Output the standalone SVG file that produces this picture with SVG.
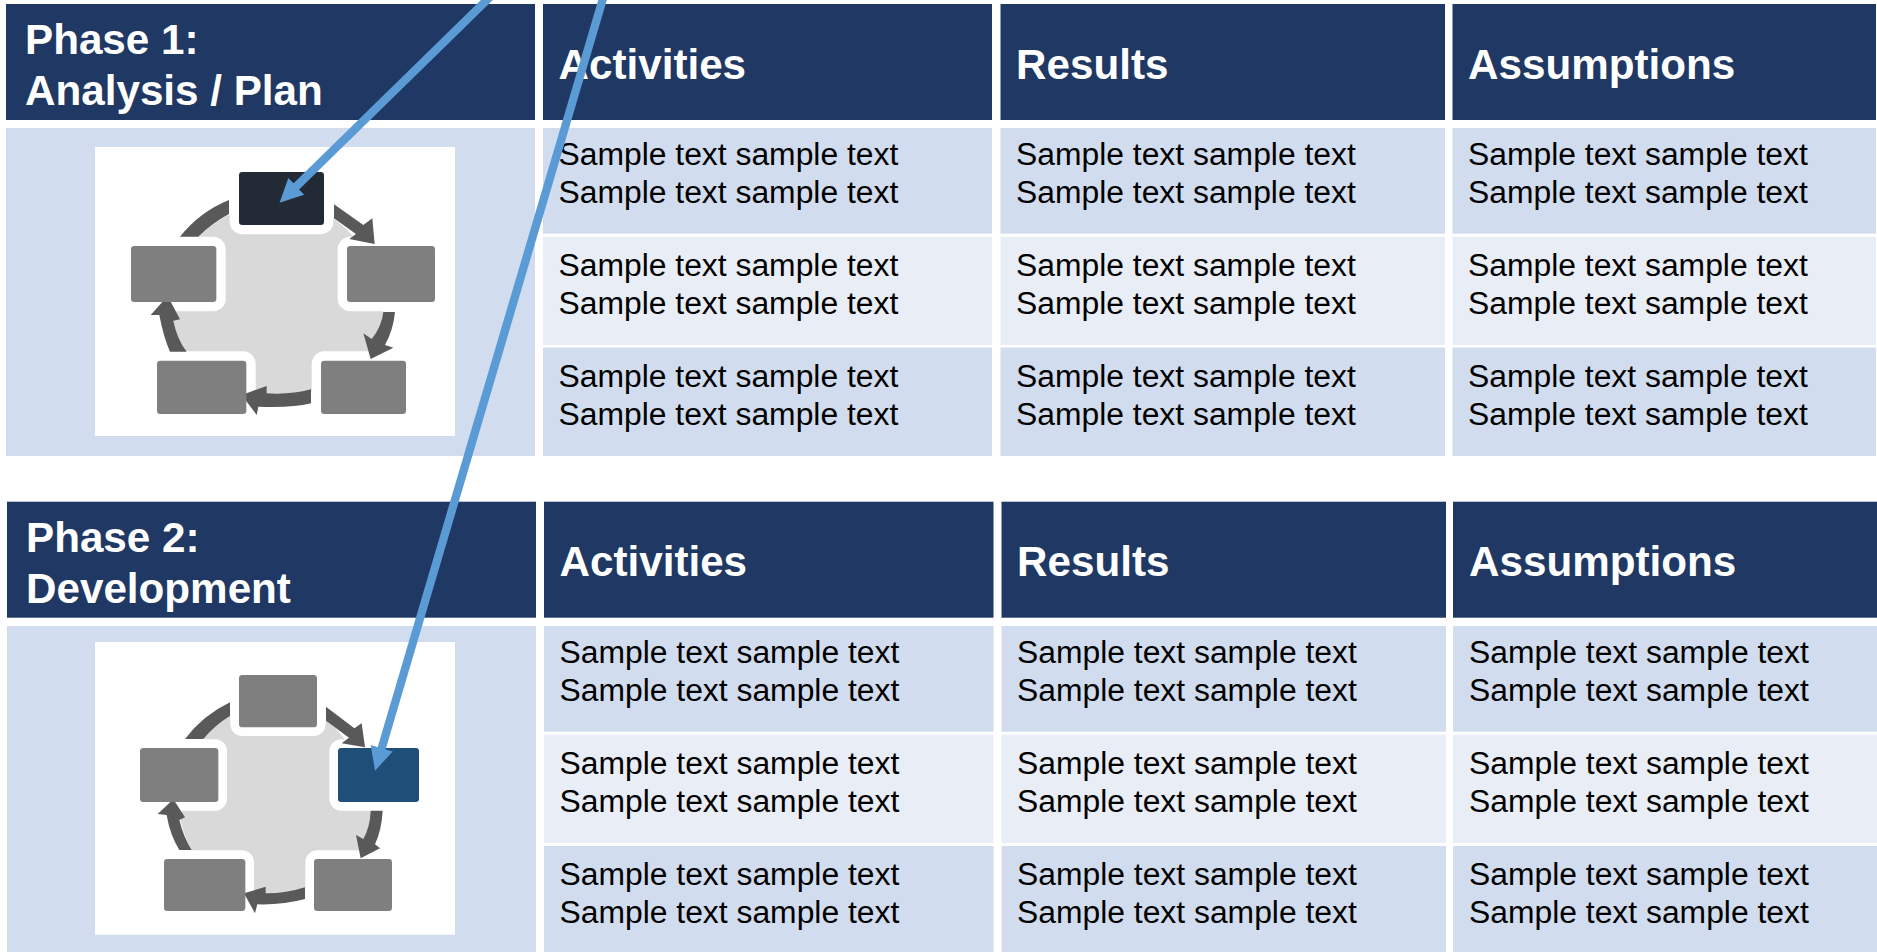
<svg xmlns="http://www.w3.org/2000/svg" width="1877" height="952" viewBox="0 0 1877 952">
<style>
text{font-family:"Liberation Sans",Arial,sans-serif}
.h{fill:#203864}
.a{fill:#D1DCEE}
.b{fill:#E9EDF6}
.ht{font-size:42.2px;font-weight:700;fill:#fff}
.t{font-size:31.85px;fill:#000}
.w{fill:#fff}
.g{fill:#D9D9D9}
.r{fill:#595959}
.bx{fill:#7F7F7F;stroke:none}
.o{fill:#fff;stroke:#fff;stroke-linejoin:round}
.c{fill:none;stroke:#5B9BD5;stroke-width:8.3}
</style>
<defs>
<marker id="ah" markerUnits="userSpaceOnUse" viewBox="0 0 24 24" markerWidth="24" markerHeight="24" refX="12" refY="12" orient="auto"><path d="M0 0.5L23.5 12L0 23.5Z" fill="#5B9BD5"/></marker>
</defs>
<g id="p1-title"><rect class="h" x="6" y="4" width="529" height="116"/><text class="ht" x="25" y="53.5">Phase 1:</text><text class="ht" x="25" y="104.5">Analysis / Plan</text></g>
<g id="p1-activities"><rect class="h" x="543" y="4" width="449" height="116"/><text class="ht" x="558.5" y="78.5">Activities</text></g>
<g id="p1-results"><rect class="h" x="1000.5" y="4" width="444.5" height="116"/><text class="ht" x="1016" y="78.5">Results</text></g>
<g id="p1-assumptions"><rect class="h" x="1452.5" y="4" width="423.5" height="116"/><text class="ht" x="1468" y="78.5">Assumptions</text></g>
<g id="p1-icon-panel"><rect class="a" x="6" y="128" width="529" height="328"/><rect class="w" x="95" y="147" width="360" height="289"/>
<g transform="translate(120 160) scale(.33333)">
<path class="g" d="M327 165L640 175Q700 220 720 260L790 456Q785 510 745 580L575 695Q480 710 400 695L190 575Q170 530 160 480L235 232Q275 190 327 165Z"/>
<rect class="o" x="357" y="36" width="255" height="159" rx="10" stroke-width="56"/>
<rect class="o" x="33" y="258" width="256" height="168" rx="10" stroke-width="56"/>
<rect class="o" x="681" y="258" width="264" height="168" rx="10" stroke-width="56"/>
<rect class="o" x="111" y="602" width="268" height="160" rx="10" stroke-width="56"/>
<rect class="o" x="603" y="602" width="255" height="160" rx="10" stroke-width="56"/>
<path class="r" d="M327 120Q240 155 180 230L235 230Q275 190 327 162Z"/>
<path class="r" d="M642 133L730 195L757 175L764 252L688 237L708 222L642 175Z"/>
<path class="r" d="M790 456L825 456Q820 510 795 555L820 563L752 597L730 520L755 537Q785 500 790 456Z"/>
<path class="r" d="M573 688Q510 705 440 700L440 678L365 705L410 765L415 740Q510 745 573 730Z"/>
<path class="r" d="M200 575Q172 540 160 482L180 478L143 408L92 465L118 465Q130 530 150 575Z"/>
<rect x="357" y="36" width="255" height="159" rx="10" fill="#222A35"/>
<rect class="bx" x="33" y="258" width="256" height="168" rx="10"/>
<rect class="bx" x="681" y="258" width="264" height="168" rx="10"/>
<rect class="bx" x="111" y="602" width="268" height="160" rx="10"/>
<rect class="bx" x="603" y="602" width="255" height="160" rx="10"/>
</g></g>
<g id="p1-r1c1"><rect class="a" x="543" y="128" width="449" height="105.7"/><text class="t" x="558.5" y="165">Sample text sample text</text><text class="t" x="558.5" y="203">Sample text sample text</text></g>
<g id="p1-r1c2"><rect class="a" x="1000.5" y="128" width="444.5" height="105.7"/><text class="t" x="1016" y="165">Sample text sample text</text><text class="t" x="1016" y="203">Sample text sample text</text></g>
<g id="p1-r1c3"><rect class="a" x="1452.5" y="128" width="423.5" height="105.7"/><text class="t" x="1468" y="165">Sample text sample text</text><text class="t" x="1468" y="203">Sample text sample text</text></g>
<g id="p1-r2c1"><rect class="b" x="543" y="236.7" width="449" height="108.3"/><text class="t" x="558.5" y="276">Sample text sample text</text><text class="t" x="558.5" y="314">Sample text sample text</text></g>
<g id="p1-r2c2"><rect class="b" x="1000.5" y="236.7" width="444.5" height="108.3"/><text class="t" x="1016" y="276">Sample text sample text</text><text class="t" x="1016" y="314">Sample text sample text</text></g>
<g id="p1-r2c3"><rect class="b" x="1452.5" y="236.7" width="423.5" height="108.3"/><text class="t" x="1468" y="276">Sample text sample text</text><text class="t" x="1468" y="314">Sample text sample text</text></g>
<g id="p1-r3c1"><rect class="a" x="543" y="347.5" width="449" height="108.5"/><text class="t" x="558.5" y="387">Sample text sample text</text><text class="t" x="558.5" y="425">Sample text sample text</text></g>
<g id="p1-r3c2"><rect class="a" x="1000.5" y="347.5" width="444.5" height="108.5"/><text class="t" x="1016" y="387">Sample text sample text</text><text class="t" x="1016" y="425">Sample text sample text</text></g>
<g id="p1-r3c3"><rect class="a" x="1452.5" y="347.5" width="423.5" height="108.5"/><text class="t" x="1468" y="387">Sample text sample text</text><text class="t" x="1468" y="425">Sample text sample text</text></g>
<g id="p2-title"><rect class="h" x="7" y="501.7" width="529" height="116"/><text class="ht" x="26" y="551.5">Phase 2:</text><text class="ht" x="26" y="602.5">Development</text></g>
<g id="p2-activities"><rect class="h" x="544" y="501.7" width="449.5" height="116"/><text class="ht" x="559.5" y="576">Activities</text></g>
<g id="p2-results"><rect class="h" x="1001.5" y="501.7" width="444.5" height="116"/><text class="ht" x="1017" y="576">Results</text></g>
<g id="p2-assumptions"><rect class="h" x="1453" y="501.7" width="424" height="116"/><text class="ht" x="1469" y="576">Assumptions</text></g>
<g id="p2-icon-panel"><rect class="a" x="7" y="626" width="529" height="326"/><rect class="w" x="95" y="642" width="360" height="292.7"/>
<g transform="translate(120 660) scale(.33333)">
<path class="g" d="M330 168L618 182Q660 210 680 250L752 452Q750 510 715 575L555 690Q480 705 400 695L215 570Q190 525 180 475L250 237Q285 195 330 168Z"/>
<rect class="o" x="357" y="45" width="234" height="157" rx="10" stroke-width="52"/>
<rect class="o" x="60" y="264" width="235" height="162" rx="10" stroke-width="52"/>
<rect class="o" x="654" y="264" width="243" height="162" rx="10" stroke-width="52"/>
<rect class="o" x="132" y="597" width="244" height="156" rx="10" stroke-width="52"/>
<rect class="o" x="582" y="597" width="234" height="156" rx="10" stroke-width="52"/>
<path class="r" d="M330 127Q250 165 195 237L250 237Q285 195 330 168Z"/>
<path class="r" d="M618 140L703 205L725 190L735 262L665 250L687 233L618 182Z"/>
<path class="r" d="M752 452L788 452Q785 510 765 553L780 565L722 595L708 525L730 537Q750 500 752 452Z"/>
<path class="r" d="M555 682Q500 700 437 700L437 680L372 700L405 760L412 733Q490 735 555 717Z"/>
<path class="r" d="M215 570Q190 530 178 480L195 472L160 418L113 462L140 465Q150 525 178 570Z"/>
<rect class="bx" x="357" y="45" width="234" height="157" rx="10"/>
<rect class="bx" x="60" y="264" width="235" height="162" rx="10"/>
<rect x="654" y="264" width="243" height="162" rx="10" fill="#1F4E79"/>
<rect class="bx" x="132" y="597" width="244" height="156" rx="10"/>
<rect class="bx" x="582" y="597" width="234" height="156" rx="10"/>
</g></g>
<g id="p2-r1c1"><rect class="a" x="544" y="626" width="449.5" height="105.7"/><text class="t" x="559.5" y="662.5">Sample text sample text</text><text class="t" x="559.5" y="700.5">Sample text sample text</text></g>
<g id="p2-r1c2"><rect class="a" x="1001.5" y="626" width="444.5" height="105.7"/><text class="t" x="1017" y="662.5">Sample text sample text</text><text class="t" x="1017" y="700.5">Sample text sample text</text></g>
<g id="p2-r1c3"><rect class="a" x="1453" y="626" width="424" height="105.7"/><text class="t" x="1469" y="662.5">Sample text sample text</text><text class="t" x="1469" y="700.5">Sample text sample text</text></g>
<g id="p2-r2c1"><rect class="b" x="544" y="734.7" width="449.5" height="108.3"/><text class="t" x="559.5" y="773.5">Sample text sample text</text><text class="t" x="559.5" y="811.5">Sample text sample text</text></g>
<g id="p2-r2c2"><rect class="b" x="1001.5" y="734.7" width="444.5" height="108.3"/><text class="t" x="1017" y="773.5">Sample text sample text</text><text class="t" x="1017" y="811.5">Sample text sample text</text></g>
<g id="p2-r2c3"><rect class="b" x="1453" y="734.7" width="424" height="108.3"/><text class="t" x="1469" y="773.5">Sample text sample text</text><text class="t" x="1469" y="811.5">Sample text sample text</text></g>
<g id="p2-r3c1"><rect class="a" x="544" y="846" width="449.5" height="106"/><text class="t" x="559.5" y="884.5">Sample text sample text</text><text class="t" x="559.5" y="922.5">Sample text sample text</text></g>
<g id="p2-r3c2"><rect class="a" x="1001.5" y="846" width="444.5" height="106"/><text class="t" x="1017" y="884.5">Sample text sample text</text><text class="t" x="1017" y="922.5">Sample text sample text</text></g>
<g id="p2-r3c3"><rect class="a" x="1453" y="846" width="424" height="106"/><text class="t" x="1469" y="884.5">Sample text sample text</text><text class="t" x="1469" y="922.5">Sample text sample text</text></g>
<g id="connectors">
<line class="c" x1="492" y1="-5" x2="287.8" y2="194.7" marker-end="url(#ah)"/>
<line class="c" x1="604" y1="-5" x2="378.3" y2="759.7" marker-end="url(#ah)"/>
</g>
</svg>
